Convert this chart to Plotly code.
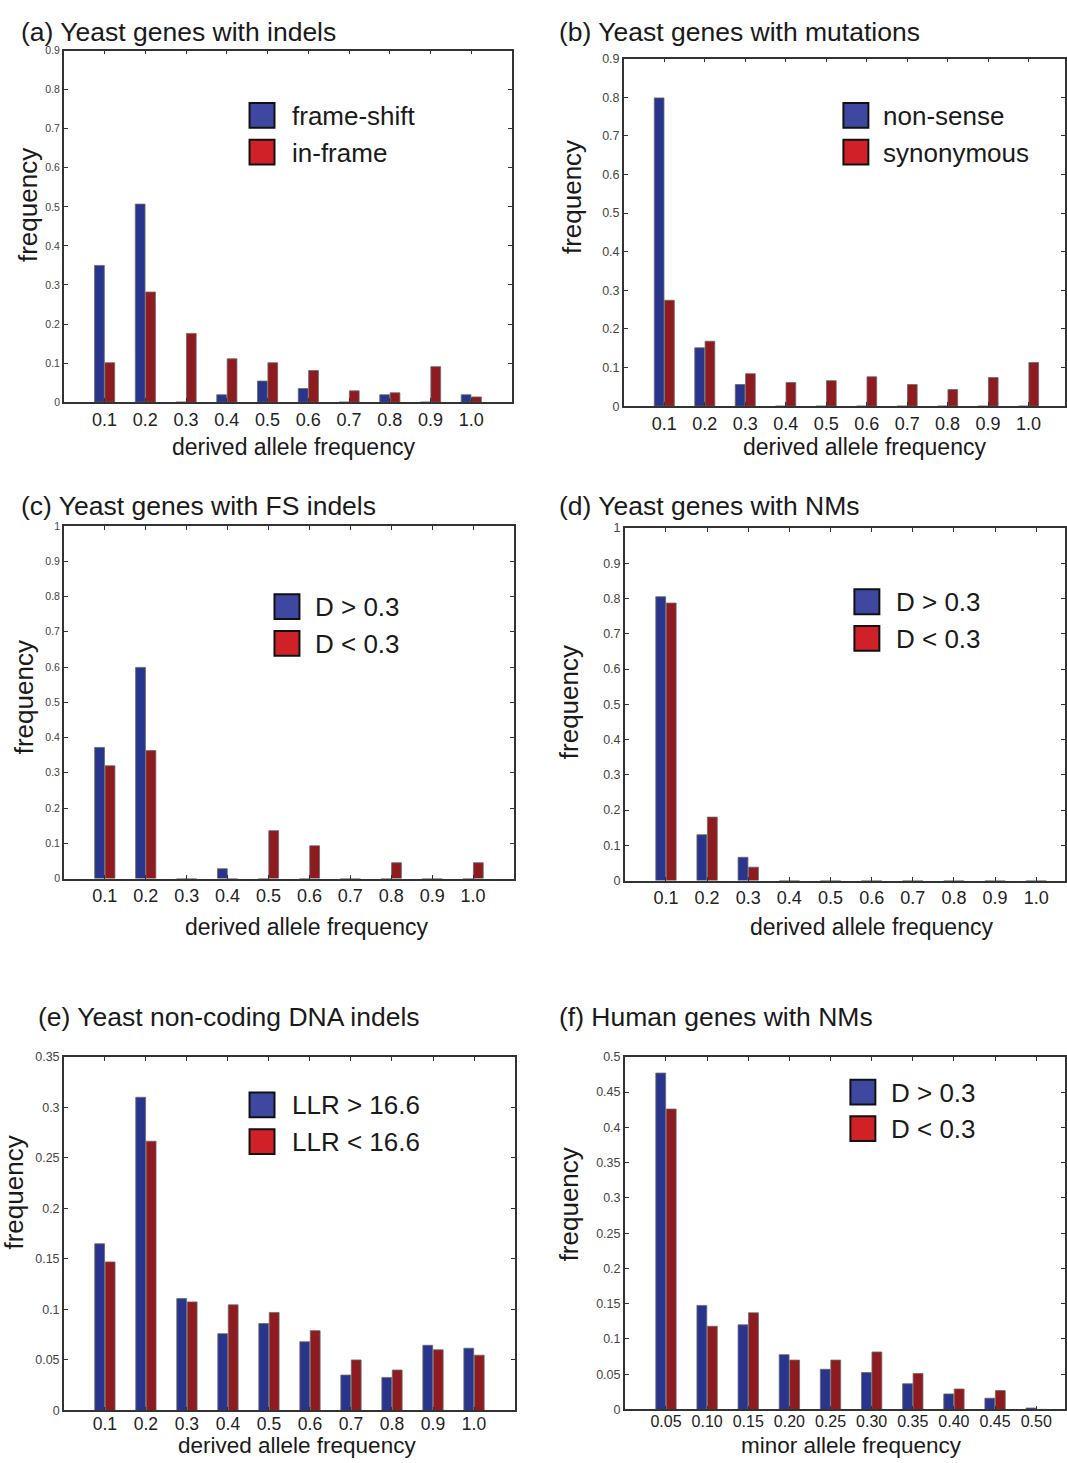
import plotly.graph_objects as go

W, H = 1067, 1463
FONT = "Liberation Sans, Arial, Helvetica, sans-serif"

# ---------------- data ----------------
daf_bins = [0.1, 0.2, 0.3, 0.4, 0.5, 0.6, 0.7, 0.8, 0.9, 1.0]
daf_labels = ["0.1", "0.2", "0.3", "0.4", "0.5", "0.6", "0.7", "0.8", "0.9", "1.0"]
maf_bins = [0.05, 0.10, 0.15, 0.20, 0.25, 0.30, 0.35, 0.40, 0.45, 0.50]
maf_labels = ["0.05", "0.10", "0.15", "0.20", "0.25", "0.30", "0.35", "0.40", "0.45", "0.50"]

a_frameshift = [0.350, 0.507, 0.0, 0.019, 0.054, 0.035, 0.0, 0.019, 0.0, 0.019]
a_inframe = [0.101, 0.282, 0.176, 0.111, 0.101, 0.081, 0.029, 0.024, 0.091, 0.0135]

b_nonsense = [0.798, 0.151, 0.056, 0.0, 0.0, 0.0, 0.0, 0.0, 0.0, 0.0]
b_synonymous = [0.274, 0.168, 0.084, 0.061, 0.066, 0.076, 0.056, 0.043, 0.074, 0.113]

c_d_high = [0.372, 0.599, 0.0, 0.028, 0.0, 0.0, 0.0, 0.0, 0.0, 0.0]
c_d_low = [0.320, 0.363, 0.0, 0.0, 0.136, 0.093, 0.0, 0.045, 0.0, 0.045]

d_d_high = [0.805, 0.130, 0.066, 0.0, 0.0, 0.0, 0.0, 0.0, 0.0, 0.0]
d_d_low = [0.787, 0.180, 0.038, 0.0, 0.0, 0.0, 0.0, 0.0, 0.0, 0.0]

e_llr_high = [0.165, 0.310, 0.1107, 0.076, 0.086, 0.068, 0.035, 0.0327, 0.0645, 0.0616]
e_llr_low = [0.147, 0.2665, 0.1074, 0.1045, 0.097, 0.079, 0.050, 0.040, 0.060, 0.0547]

f_d_high = [0.477, 0.1475, 0.120, 0.0777, 0.057, 0.0524, 0.0365, 0.022, 0.016, 0.002]
f_d_low = [0.426, 0.118, 0.137, 0.070, 0.070, 0.0815, 0.051, 0.029, 0.0267, 0.0]

yticks_09 = [0, 0.1, 0.2, 0.3, 0.4, 0.5, 0.6, 0.7, 0.8, 0.9]
ytext_09 = ["0", "0.1", "0.2", "0.3", "0.4", "0.5", "0.6", "0.7", "0.8", "0.9"]
yticks_10 = yticks_09 + [1.0]
ytext_10 = ytext_09 + ["1"]
yticks_035 = [0, 0.05, 0.1, 0.15, 0.2, 0.25, 0.3, 0.35]
ytext_035 = ["0", "0.05", "0.1", "0.15", "0.2", "0.25", "0.3", "0.35"]
yticks_05 = [0, 0.05, 0.1, 0.15, 0.2, 0.25, 0.3, 0.35, 0.4, 0.45, 0.5]
ytext_05 = ["0", "0.05", "0.1", "0.15", "0.2", "0.25", "0.3", "0.35", "0.4", "0.45", "0.5"]

# ---------------- styles ----------------
BAR_BLUE = "#29358c"
BAR_RED = "#8e1b20"
LEG_BLUE = "#3f48a0"
LEG_RED = "#d02128"
AX = "#333333"


def px(x):
    return x / W


def py(y):
    return 1 - y / H


panels = [
    dict(title="(a) Yeast genes with indels", x=daf_bins, xt=daf_labels,
         s1=a_frameshift, s2=a_inframe, n1="frame-shift", n2="in-frame",
         box=(64, 513, 44, 399), xr=[0, 1.1], yr=[0, 0.9], yt=yticks_09, ytt=ytext_09,
         ytf=10.5, xtf=18, xso=0, xlabel="derived allele frequency", xlf=23,
         title_pos=(19, 25), ytitle_pos=(28, 200), xtitle_pos=(294, 444),
         leg=(250, 97, 291), leg_dy=37),
    dict(title="(b) Yeast genes with mutations", x=daf_bins, xt=daf_labels,
         s1=b_nonsense, s2=b_synonymous, n1="non-sense", n2="synonymous",
         box=(625, 1067, 52, 403), xr=[0, 1.09], yr=[0, 0.9], yt=yticks_09, ytt=ytext_09,
         ytf=12.5, xtf=18, xso=0, xlabel="derived allele frequency", xlf=23,
         title_pos=(558, 25), ytitle_pos=(573, 192), xtitle_pos=(866, 444),
         leg=(845, 97, 883), leg_dy=37),
    dict(title="(c) Yeast genes with FS indels", x=daf_bins, xt=daf_labels,
         s1=c_d_high, s2=c_d_low, n1="D > 0.3", n2="D < 0.3",
         box=(64, 515, 524, 880), xr=[0, 1.1], yr=[0, 1.0], yt=yticks_10, ytt=ytext_10,
         ytf=10.5, xtf=18, xso=0, xlabel="derived allele frequency", xlf=23,
         title_pos=(19, 504), ytitle_pos=(24, 697), xtitle_pos=(307, 929),
         leg=(275, 593, 314), leg_dy=37),
    dict(title="(d) Yeast genes with NMs", x=daf_bins, xt=daf_labels,
         s1=d_d_high, s2=d_d_low, n1="D > 0.3", n2="D < 0.3",
         box=(626, 1067, 526, 882), xr=[0, 1.07], yr=[0, 1.0], yt=yticks_10, ytt=ytext_10,
         ytf=12.5, xtf=18, xso=0, xlabel="derived allele frequency", xlf=23,
         title_pos=(558, 504), ytitle_pos=(570, 702), xtitle_pos=(873, 929),
         leg=(856, 588, 896), leg_dy=37),
    dict(title="(e) Yeast non-coding DNA indels", x=daf_bins, xt=daf_labels,
         s1=e_llr_high, s2=e_llr_low, n1="LLR > 16.6", n2="LLR < 16.6",
         box=(64, 516, 1060, 1417), xr=[0, 1.1], yr=[0, 0.35], yt=yticks_035, ytt=ytext_035,
         ytf=12.5, xtf=17.5, xso=-3, xlabel="derived allele frequency", xlf=22.5,
         title_pos=(36, 1020), ytitle_pos=(14, 1197), xtitle_pos=(298, 1452),
         leg=(250, 1096, 291), leg_dy=37),
    dict(title="(f) Human genes with NMs", x=maf_bins, xt=maf_labels,
         s1=f_d_high, s2=f_d_low, n1="D > 0.3", n2="D < 0.3",
         box=(626, 1067, 1060, 1416), xr=[0, 0.535], yr=[0, 0.5], yt=yticks_05, ytt=ytext_05,
         ytf=12.5, xtf=16, xso=-3, xlabel="minor allele frequency", xlf=22.5,
         title_pos=(558, 1020), ytitle_pos=(571, 1209), xtitle_pos=(853, 1452),
         leg=(852, 1083, 891), leg_dy=37),
]

fig = go.Figure()
layout = dict(
    width=W, height=H,
    margin=dict(l=0, r=0, t=0, b=0),
    paper_bgcolor="white", plot_bgcolor="white",
    barmode="group", bargap=0.49, bargroupgap=0.06,
    showlegend=False,
    font=dict(family=FONT, color="#1a1a1a"),
)
annotations = []
shapes = []

for i, p in enumerate(panels):
    k = "" if i == 0 else str(i + 1)
    xa, ya = "x" + k, "y" + k
    x0, x1, y0, y1 = p["box"]
    for vals, name, col in ((p["s1"], p["n1"], BAR_BLUE), (p["s2"], p["n2"], BAR_RED)):
        fig.add_trace(go.Bar(
            x=p["x"], y=vals, name=name, xaxis=xa, yaxis=ya,
            marker=dict(color=col, line=dict(color="#6a6a6a", width=0.8)),
        ))
    layout["xaxis" + k] = dict(
        domain=[px(x0), px(x1)], anchor=ya, range=p["xr"],
        tickmode="array", tickvals=p["x"], ticktext=p["xt"],
        tickfont=dict(size=p["xtf"], color="#222222", family=FONT),
        ticklabelstandoff=p["xso"],
        ticks="inside", ticklen=4, tickcolor=AX, tickwidth=1,
        showline=True, linecolor=AX, linewidth=1.6, mirror="ticks",
        showgrid=False, zeroline=False,
    )
    layout["yaxis" + k] = dict(
        domain=[py(y1), py(y0)], anchor=xa, range=p["yr"],
        tickmode="array", tickvals=p["yt"], ticktext=p["ytt"],
        tickfont=dict(size=p["ytf"], color="#444444", family=FONT),
        ticks="inside", ticklen=4, tickcolor=AX, tickwidth=1,
        showline=True, linecolor=AX, linewidth=1.6, mirror="ticks",
        showgrid=False, zeroline=False,
    )
    # panel title
    tx, ty = p["title_pos"]
    annotations.append(dict(text=p["title"], x=px(tx), y=py(ty), xref="paper", yref="paper",
                            xanchor="left", yanchor="middle", showarrow=False,
                            font=dict(size=26.5, color="#1a1a1a", family=FONT)))
    # y title
    yx, yy = p["ytitle_pos"]
    annotations.append(dict(text="frequency", x=px(yx), y=py(yy), xref="paper", yref="paper",
                            xanchor="center", yanchor="middle", textangle=-90, showarrow=False,
                            font=dict(size=26, color="#1a1a1a", family=FONT)))
    # x title
    xx, xy = p["xtitle_pos"]
    annotations.append(dict(text=p["xlabel"], x=px(xx), y=py(xy), xref="paper", yref="paper",
                            xanchor="center", yanchor="middle", showarrow=False,
                            font=dict(size=p["xlf"], color="#1a1a1a", family=FONT)))
    # legend (swatches + labels)
    lx, ly, ltx = p["leg"]
    for j, (name, col) in enumerate(((p["n1"], LEG_BLUE), (p["n2"], LEG_RED))):
        top = ly + j * p["leg_dy"]
        shapes.append(dict(type="rect", xref="paper", yref="paper",
                           x0=px(lx), x1=px(lx + 25), y0=py(top + 25), y1=py(top),
                           fillcolor=col, line=dict(color="#111111", width=2)))
        annotations.append(dict(text=name, x=px(ltx), y=py(top + 13), xref="paper", yref="paper",
                                xanchor="left", yanchor="middle", showarrow=False,
                                font=dict(size=26, color="#1a1a1a", family=FONT)))

layout["annotations"] = annotations
layout["shapes"] = shapes
fig.update_layout(**layout)
fig.write_html(
    "out.html",
    config={"displayModeBar": False},
    post_script="document.body.style.margin='0';document.body.style.overflow='hidden';",
)
